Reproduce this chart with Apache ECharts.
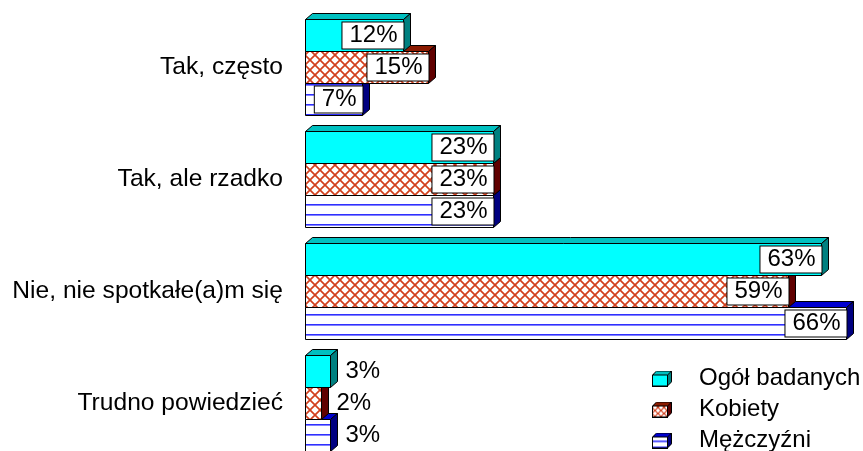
<!DOCTYPE html>
<html><head><meta charset="utf-8">
<script src="https://cdn.jsdelivr.net/npm/echarts@6/dist/echarts.min.js"></script>
<style>html,body{margin:0;padding:0;background:#fff;overflow:hidden}#c{width:863px;height:462px}</style>
</head><body><div id="c"></div>
<script>
const categories = ['Tak, często', 'Tak, ale rzadko', 'Nie, nie spotkałe(a)m się', 'Trudno powiedzieć'];
const seriesNames = ['Ogół badanych', 'Kobiety', 'Mężczyźni'];
const ogol = [12, 23, 63, 3];
const kobiety = [15, 23, 59, 2];
const mezczyzni = [7, 23, 66, 3];

const FONT = 'Liberation Sans, Arial, sans-serif';
const GAP = 0.143, DEPTH = 7, FS = 24, AXIS_FS = 24.6;

function makePattern(kind, s) {
  const c = document.createElement('canvas');
  c.width = s; c.height = s;
  const g = c.getContext('2d');
  g.fillStyle = '#fff'; g.fillRect(0, 0, s, s);
  if (kind === 'cross') {
    g.strokeStyle = '#d2401e'; g.lineWidth = s > 8 ? 1.7 : 1.2;
    g.beginPath();
    g.moveTo(-1, -1); g.lineTo(s + 1, s + 1);
    g.moveTo(s + 1, -1); g.lineTo(-1, s + 1);
    g.stroke();
  } else {
    g.fillStyle = '#3030ff'; g.fillRect(0, Math.floor(s / 2) - 1, s, 1.6);
  }
  return { image: c, repeat: 'repeat' };
}

const styles = [
  { front: '#00ffff', top: '#00c0c0', side: '#008080', kind: null },
  { front: makePattern('cross', 10), top: '#8a1a00', side: '#600000', kind: 'cross' },
  { front: makePattern('lines', 10), top: '#0000d0', side: '#000080', kind: 'lines' }
];

function legendIcon(si) {
  const st = styles[si];
  const c = document.createElement('canvas');
  c.width = 42; c.height = 16;
  const g = c.getContext('2d');
  g.lineWidth = 1; g.strokeStyle = '#000';
  const poly = (pts, fill) => {
    g.beginPath(); g.moveTo(pts[0][0], pts[0][1]);
    for (let i = 1; i < pts.length; i++) g.lineTo(pts[i][0], pts[i][1]);
    g.closePath(); g.fillStyle = fill; g.fill(); g.stroke();
  };
  poly([[0.5, 4.5], [4.5, 0.5], [19.5, 0.5], [15.5, 4.5]], st.top);
  poly([[15.5, 4.5], [19.5, 0.5], [19.5, 11.5], [15.5, 15.5]], st.side);
  let fill = st.front;
  if (st.kind) {
    const p = makePattern(st.kind, 6).image;
    fill = g.createPattern(p, 'repeat');
  }
  g.fillStyle = fill; g.fillRect(0.5, 4.5, 15, 11); g.strokeRect(0.5, 4.5, 15, 11);
  return 'image://' + c.toDataURL();
}

function render3D(si) {
  return function (params, api) {
    const val = api.value(0), cat = api.value(1);
    const p0 = api.coord([0, cat]), p1 = api.coord([val, cat]);
    const band = api.size([0, 1])[1];
    const gh = band * (1 - GAP), h = gh / 3;
    const y = Math.round(p0[1] - gh / 2 + si * h) + 0.5;
    const hh = Math.round(h);
    const x0 = Math.round(p0[0]) + 0.5, x1 = Math.round(p1[0]) + 0.5, d = DEPTH;
    const st = styles[si];
    const ln = { stroke: '#000', lineWidth: 1 };
    const children = [
      { type: 'polygon', shape: { points: [[x0, y], [x0 + d, y - d + 1], [x1 + d, y - d + 1], [x1, y]] }, style: Object.assign({ fill: st.top }, ln) },
      { type: 'polygon', shape: { points: [[x1, y], [x1 + d, y - d + 1], [x1 + d, y + hh - d + 1], [x1, y + hh]] }, style: Object.assign({ fill: st.side }, ln) },
      { type: 'rect', shape: { x: x0, y: y, width: x1 - x0, height: hh }, style: Object.assign({ fill: st.front }, ln) }
    ];
    if (val >= 5) {
      children.push({ type: 'text', style: { text: val + '%', x: x1, y: y + hh / 2, align: 'right', verticalAlign: 'middle', font: FS + 'px ' + FONT, lineHeight: 24, fill: '#000', backgroundColor: '#fff', borderColor: '#000', borderWidth: 1, padding: [1, 6, 1, 7] } });
    } else {
      children.push({ type: 'text', style: { text: val + '%', x: x1 + d + 8, y: y + hh / 2, align: 'left', verticalAlign: 'middle', font: FS + 'px ' + FONT, fill: '#000' } });
    }
    return { type: 'group', children: children };
  };
}

const allData = [ogol, kobiety, mezczyzni];
const series = allData.map((arr, si) => ({
  type: 'custom',
  name: seriesNames[si],
  z: 10 - si,
  renderItem: render3D(si),
  encode: { x: 0, y: 1 },
  itemStyle: { color: si === 0 ? '#00ffff' : (si === 1 ? '#d2401e' : '#3030ff') },
  data: arr.map((v, i) => [v, i])
}));

const chart = echarts.init(document.getElementById('c'));
chart.setOption({
  animation: false,
  backgroundColor: '#fff',
  grid: { left: 305, width: 549, top: 11, height: 448 },
  xAxis: { type: 'value', min: 0, max: 67, show: false },
  yAxis: {
    type: 'category', data: categories, inverse: true,
    axisLine: { show: false }, axisTick: { show: false }, splitLine: { show: false },
    axisLabel: { fontSize: AXIS_FS, color: '#000', fontFamily: FONT, margin: 22 }
  },
  legend: {
    orient: 'vertical', left: 652, top: 366, itemGap: 6, itemWidth: 42, itemHeight: 16, padding: 0,
    textStyle: { fontSize: FS, color: '#000', fontFamily: FONT, lineHeight: 25 },
    data: seriesNames.map((n, i) => ({ name: n, icon: legendIcon(i) }))
  },
  series: series
});
</script>
</body></html>
